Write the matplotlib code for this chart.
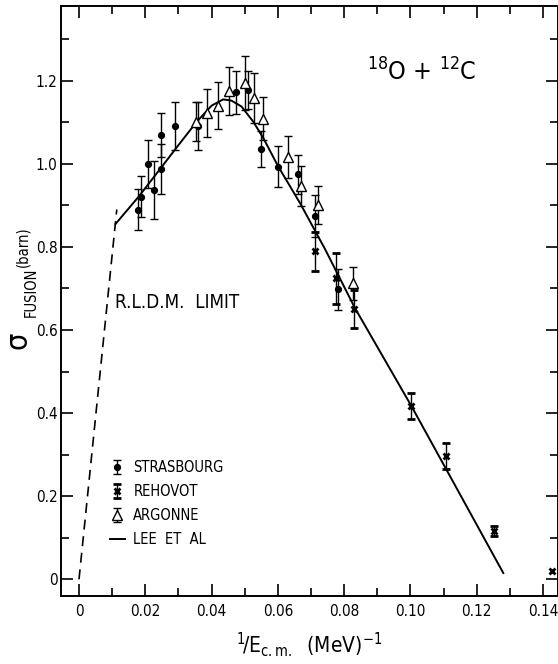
import numpy as np
import matplotlib
matplotlib.use("Agg")
from matplotlib import pyplot as plt
from matplotlib.lines import Line2D

plt.rcParams['font.family'] = ['DejaVu Sans']
plt.rcParams['font.stretch'] = 'condensed'
plt.rcParams['mathtext.default'] = 'regular'

# data: x = 1/E_cm (MeV^-1), y = sigma fusion (barn)
strasbourg_x = [0.0179, 0.0187, 0.0207, 0.0227, 0.0247, 0.0247, 0.0290, 0.0360,
                0.0473, 0.0511, 0.0548, 0.0599, 0.0662, 0.0711, 0.0780]
strasbourg_y = [0.890, 0.921, 1.000, 0.937, 0.988, 1.069, 1.091, 1.091,
                1.172, 1.178, 1.036, 0.993, 0.975, 0.874, 0.698]
strasbourg_err = [0.050, 0.050, 0.058, 0.070, 0.060, 0.053, 0.058, 0.057,
                  0.051, 0.045, 0.043, 0.050, 0.047, 0.050, 0.050]

rehovot_x = [0.0712, 0.0775, 0.0830, 0.1002, 0.1107, 0.1252, 0.1428]
rehovot_y = [0.790, 0.724, 0.650, 0.417, 0.297, 0.117, 0.021]
rehovot_err = [0.047, 0.062, 0.046, 0.032, 0.031, 0.012, 0.0]

argonne_x = [0.0353, 0.0385, 0.0418, 0.0453, 0.0502, 0.0529, 0.0556, 0.0629,
             0.0670, 0.0720, 0.0828]
argonne_y = [1.101, 1.122, 1.140, 1.175, 1.194, 1.158, 1.109, 1.017,
             0.947, 0.901, 0.712]
argonne_err = [0.047, 0.057, 0.057, 0.057, 0.065, 0.060, 0.052, 0.050,
               0.048, 0.046, 0.040]

lee_x = [0.011, 0.018, 0.025, 0.030, 0.0355, 0.040, 0.0435, 0.046, 0.049,
         0.0526, 0.0556, 0.060, 0.0667, 0.0742, 0.0833, 0.1002, 0.1109, 0.128]
lee_y = [0.855, 0.921, 0.993, 1.045, 1.101, 1.140, 1.155, 1.152, 1.138,
         1.101, 1.062, 0.995, 0.905, 0.795, 0.652, 0.418, 0.263, 0.015]

rldm_x = [0.0, 0.0114]
rldm_y = [0.0, 0.890]

x_ticks = [0, 0.02, 0.04, 0.06, 0.08, 0.10, 0.12, 0.14]
x_labels = ['0', '0.02', '0.04', '0.06', '0.08', '0.10', '0.12', '0.14']
y_ticks = [0, 0.2, 0.4, 0.6, 0.8, 1.0, 1.2]
y_labels = ['0', '0.2', '0.4', '0.6', '0.8', '1.0', '1.2']

W, H = 558, 664
fig = plt.figure(figsize=(W / 100, H / 100), dpi=100)
ax = fig.add_axes([61 / W, 68 / H, 497 / W, 590.3 / H])

ax.set_xlim(-0.00543, 0.1445)
ax.set_ylim(-0.0402, 1.3805)

ebkw = dict(color='black', ecolor='black', elinewidth=1.0, capsize=2.6,
            capthick=1.0, linestyle='none')
h_str = ax.errorbar(strasbourg_x, strasbourg_y, yerr=strasbourg_err, marker='o',
                    markersize=4.2, **ebkw)
rerr = np.array(rehovot_err)
has = rerr > 0
h_reh = ax.errorbar(np.array(rehovot_x)[has], np.array(rehovot_y)[has], yerr=rerr[has],
                    marker='x', markersize=5, markeredgewidth=2, **ebkw)
ax.plot(np.array(rehovot_x)[~has], np.array(rehovot_y)[~has], linestyle='none',
        marker='x', markersize=5, markeredgewidth=2, color='black')
h_arg = ax.errorbar(argonne_x, argonne_y, yerr=argonne_err, marker='^',
                    markersize=7, markerfacecolor='white', markeredgecolor='black',
                    markeredgewidth=1.0, **ebkw)

ax.plot(lee_x, lee_y, color='black', linewidth=1.4)
ax.plot(rldm_x, rldm_y, color='black', linewidth=1.2, dashes=[6, 4])

ax.text(0.0109, 0.665, 'R.L.D.M.  LIMIT', fontsize=13.5, va='center', ha='left')
ax.text(0.1198, 1.221, r'$^{18}$O + $^{12}$C', fontsize=18, va='center', ha='right')

ax.set_xticks(x_ticks)
ax.set_xticklabels(x_labels)
ax.set_yticks(y_ticks)
ax.set_yticklabels(y_labels)
ax.set_xticks(np.arange(0.01, 0.145, 0.02), minor=True)
ax.set_yticks([0.1, 0.3, 0.5, 0.7, 0.9, 1.1, 1.3], minor=True)
ax.tick_params(which='both', direction='in', top=True, right=True, width=1.2,
               labelsize=11)
ax.tick_params(which='major', length=8.5)
ax.tick_params(which='minor', length=5.5)
ax.tick_params(axis='x', pad=6)
ax.tick_params(axis='y', pad=2.5)
for s in ax.spines.values():
    s.set_linewidth(1.4)

ax.set_xlabel(r'$^{1}\!/E_{c.m.}$  (MeV)$^{-1}$', fontsize=15, labelpad=8)

# y label built from pieces, rotated
fig.text(18 / W, 1 - 340 / H, 'σ', fontsize=22, rotation=90, ha='center', va='center')
fig.text(31 / W, 1 - 292 / H, 'FUSION', fontsize=10.5, rotation=90, ha='center', va='center')
fig.text(23 / W, 1 - 247 / H, '(barn)', fontsize=10.5, rotation=90, ha='center', va='center')

handles = [h_str, h_reh, h_arg, Line2D([], [], color='black', linewidth=1.4)]
labels = ['STRASBOURG', 'REHOVOT', 'ARGONNE', 'LEE  ET  AL']
leg = ax.legend(handles, labels, loc='upper left', frameon=False, fontsize=10.5,
                bbox_to_anchor=(110 / W, 1 - 460 / H), bbox_transform=fig.transFigure,
                borderpad=0, borderaxespad=0, handlelength=1.0, handletextpad=0.6,
                labelspacing=0.62)

fig.savefig('out.png', dpi=100)
